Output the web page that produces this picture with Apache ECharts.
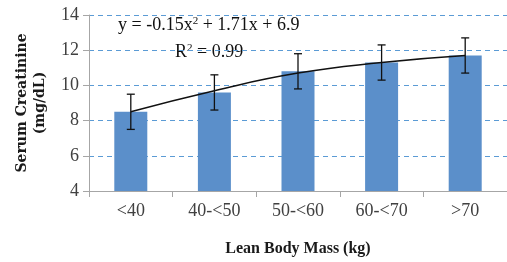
<!DOCTYPE html>
<html>
<head>
<meta charset="utf-8">
<script src="https://cdn.jsdelivr.net/npm/echarts@6/dist/echarts.min.js"></script>
<style>
  html, body { margin: 0; padding: 0; background: #fff; }
  #chart { width: 507px; height: 262px; }
</style>
</head>
<body>
<div id="chart"></div>
<script>
// categories of lean body mass
const categories = ['<40', '40-<50', '50-<60', '60-<70', '>70']
// mean serum creatinine per group
const creatinine = [8.5, 9.6, 10.8, 11.3, 11.7]
// error bar ranges (low, high)
const errLow = [7.5, 8.6, 9.8, 10.3, 10.7]
const errHigh = [9.5, 10.6, 11.8, 12.3, 12.7]
// polynomial trend line
const trend = [8.5, 9.7, 10.7, 11.3, 11.7]
const yTicks = { min: 4, max: 14, interval: 2 }

const labelFont = 'Liberation Serif'
const chart = echarts.init(document.getElementById('chart'))

const errData = categories.map((c, i) => [i, errLow[i], errHigh[i]])

const option = {
  animation: false,
  grid: { left: 89, top: 15, right: -1, bottom: 69 },
  xAxis: {
    type: 'category',
    data: categories,
    name: 'Lean Body Mass (kg)',
    nameLocation: 'middle',
    nameGap: 50,
    nameTextStyle: { fontFamily: labelFont, fontWeight: 'bold', fontSize: 16, color: '#1a1a1a' },
    axisLine: { lineStyle: { color: '#a6a6a6', width: 1 } },
    axisTick: { show: true, length: 6, lineStyle: { color: '#a6a6a6' } },
    axisLabel: { fontFamily: labelFont, fontSize: 18, color: '#404040', margin: 11 }
  },
  yAxis: {
    type: 'value',
    min: yTicks.min,
    max: yTicks.max,
    interval: yTicks.interval,
    name: 'Serum Creatinine\n(mg/dL)',
    nameLocation: 'middle',
    nameRotate: 90,
    nameGap: 40,
    nameTextStyle: { fontFamily: 'DejaVu Serif', fontWeight: 'bold', fontSize: 14, color: '#1a1a1a', lineHeight: 18 },
    axisLine: { show: true, lineStyle: { color: '#a6a6a6', width: 1 } },
    axisTick: { show: true, length: 6, lineStyle: { color: '#a6a6a6' } },
    axisLabel: { fontFamily: labelFont, fontSize: 18, color: '#404040', margin: 10 },
    splitLine: { lineStyle: { color: '#5b9bd5', type: [5, 4], width: 1 } }
  },
  graphic: [
    {
      type: 'text',
      left: 118,
      top: 16,
      style: {
        text: '{a|y = -0.15x}{s|2}{a| + 1.71x + 6.9}',
        rich: {
          a: { fontFamily: labelFont, fontSize: 18, fill: '#111' },
          s: { fontFamily: labelFont, fontSize: 11, fill: '#111', verticalAlign: 'top', padding: [0, 0, 8, 0] }
        }
      }
    },
    {
      type: 'text',
      left: 175,
      top: 43,
      style: {
        text: '{a|R}{s|2}{a| = 0.99}',
        rich: {
          a: { fontFamily: labelFont, fontSize: 18, fill: '#111' },
          s: { fontFamily: labelFont, fontSize: 11, fill: '#111', verticalAlign: 'top', padding: [0, 0, 8, 0] }
        }
      }
    }
  ],
  series: [
    {
      type: 'bar',
      data: creatinine,
      barWidth: 33,
      itemStyle: { color: '#5b8fca' }
    },
    {
      type: 'custom',
      data: errData,
      z: 5,
      renderItem (params, api) {
        const x = api.value(0)
        const lo = api.coord([x, api.value(1)])
        const hi = api.coord([x, api.value(2)])
        const cap = 4
        const style = { stroke: '#111', lineWidth: 1.3 }
        return {
          type: 'group',
          children: [
            { type: 'line', shape: { x1: lo[0], y1: lo[1], x2: hi[0], y2: hi[1] }, style },
            { type: 'line', shape: { x1: lo[0] - cap, y1: lo[1], x2: lo[0] + cap, y2: lo[1] }, style },
            { type: 'line', shape: { x1: hi[0] - cap, y1: hi[1], x2: hi[0] + cap, y2: hi[1] }, style }
          ]
        }
      }
    },
    {
      type: 'line',
      data: trend,
      smooth: true,
      symbol: 'none',
      z: 6,
      lineStyle: { color: '#111', width: 1.5 }
    }
  ]
}

chart.setOption(option)
window.addEventListener('resize', () => chart.resize())
</script>
</body>
</html>
